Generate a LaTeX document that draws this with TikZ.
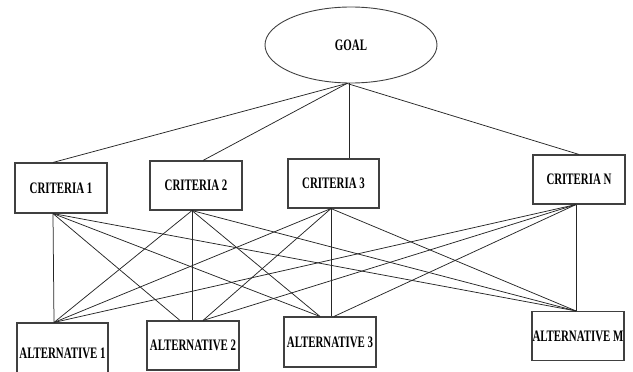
\documentclass[tikz,border=0pt]{standalone}
\usepackage{fontspec}
\usepackage{tikz}
\usetikzlibrary{calc}
\usetikzlibrary{shapes,positioning}
\newfontfamily\boxfont[FakeStretch=0.68]{Liberation Serif}
\begin{document}
\begin{tikzpicture}[x=1pt,y=-1pt,
		box/.style={draw=black!75,line width=1.1pt,fill=white,minimum width=92pt,minimum height=49pt,inner sep=0pt,font=\boxfont\fontsize{16}{18}\selectfont\bfseries},
		link/.style={draw=black!85,line width=0.75pt}]
		\useasboundingbox (0,0) rectangle (633,372);
		% goal
		\node[ellipse,draw=black!75,line width=0.9pt,minimum width=172pt,minimum height=76pt,inner sep=0pt,font=\boxfont\fontsize{16}{18}\selectfont\bfseries] (G) at (351,45) {GOAL};
		% criteria
		\node[box,minimum height=50pt] (C1) at (61,188) {CRITERIA 1};
		\node[box] (C2) at (196,185.5) {CRITERIA 2};
		\node[box,minimum width=91pt] (C3) at (333.5,183.5) {CRITERIA 3};
		\node[box] (CN) at (579,179.5) {CRITERIA N};
		% alternatives
		\node[box,minimum width=91pt,minimum height=60pt] (A1) at (62.5,353) {ALTERNATIVE 1};
		\node[box] (A2) at (193,345.5) {ALTERNATIVE 2};
		\node[box,minimum height=50pt] (A3) at (330,342) {ALTERNATIVE 3};
		\node[box] (AM) at (578,336) {ALTERNATIVE M};
		% end points
		\coordinate (Gb) at ([xshift=-4pt]G.south);
		\coordinate (Gv) at ([xshift=-2pt]G.south);
		\coordinate (C1t) at ([xshift=-8pt]C1.north);
		\coordinate (C2t) at ([xshift=7pt]C2.north);
		\coordinate (C1b) at ([xshift=-8pt]C1.south);
		\coordinate (C2b) at ([xshift=-4pt]C2.south);
		\coordinate (C3b) at ([xshift=-2.5pt]C3.south);
		\coordinate (CNb) at ([xshift=-3pt]CN.south);
		\coordinate (A1t) at ([xshift=-8.5pt]A1.north);
		\coordinate (A2l) at ([xshift=-13pt]A2.north);
		\coordinate (A2m) at ([xshift=-1pt]A2.north);
		\coordinate (A2r) at ([xshift=10pt]A2.north);
		\coordinate (A3l) at ([xshift=-10pt]A3.north);
		\coordinate (A3m) at ([xshift=1pt]A3.north);
		\coordinate (A3r) at ([xshift=4pt]A3.north);
		\coordinate (AMt) at ([xshift=-2pt]AM.north);
		% goal to criteria
		\draw[link] (Gb) -- (C1t);
		\draw[link] (Gb) -- (C2t);
		\draw[link] (Gv) -- (Gv |- C3.north);
		\draw[link] (Gb) -- (CN.north);
		% criteria to alternatives
		\draw[link] (C1b) -- (A1t);
		\draw[link] (C1b) -- (A2l);
		\draw[link] (C1b) -- (A3l);
		\draw[link] (C1b) -- (AMt);
		\draw[link] (C2b) -- (A1t);
		\draw[link] (C2b) -- (A2m);
		\draw[link] (C2b) -- (A3l);
		\draw[link] (C2b) -- (AMt);
		\draw[link] (C3b) -- (A1t);
		\draw[link] (C3b) -- (A2r);
		\draw[link] (C3b) -- (A3m);
		\draw[link] (C3b) -- (AMt);
		\draw[link] (CNb) -- (A1t);
		\draw[link] (CNb) -- (A2r);
		\draw[link] (CNb) -- (A3r);
		\draw[link] (CNb) -- (AMt);
\end{tikzpicture}
\end{document}
